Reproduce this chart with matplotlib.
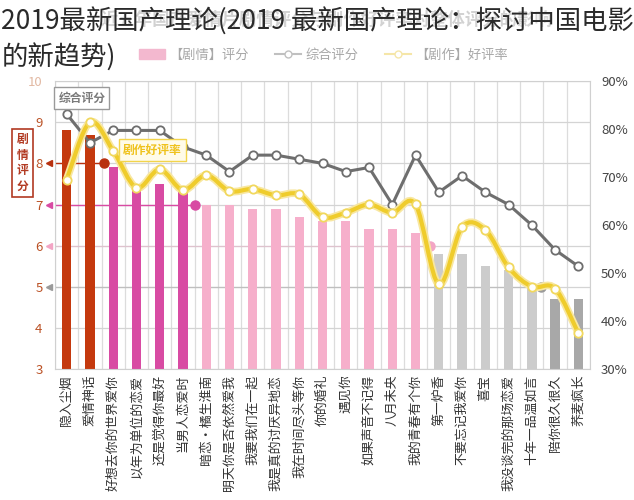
import numpy as np
import matplotlib.pyplot as plt
import matplotlib.patheffects as pe
from matplotlib.path import Path
from matplotlib.patches import PathPatch, Patch
from matplotlib.lines import Line2D

plt.rcParams['font.family'] = ['Noto Sans CJK SC', 'DejaVu Sans']

# films, left to right
films = ['隐入尘烟', '爱情神话', '好想去你的世界爱你', '以年为单位的恋爱', '还是觉得你最好',
         '当男人恋爱时', '暗恋·橘生淮南', '明天你是否依然爱我', '我要我们在一起',
         '我是真的讨厌异地恋', '我在时间尽头等你', '你的婚礼', '遇见你', '如果声音不记得',
         '八月未央', '我的青春有个你', '第一炉香', '不要忘记我爱你', '喜宝',
         '我没谈完的那场恋爱', '十年一品温如言', '陪你很久很久', '荞麦疯长']

# 【剧情】评分 (bars, left axis)
plot_score = [8.8, 8.7, 7.9, 7.4, 7.5, 7.3, 7.0, 7.0, 6.9, 6.9, 6.7, 6.6, 6.6, 6.4,
              6.4, 6.3, 5.8, 5.8, 5.5, 5.4, 5.0, 4.7, 4.7]
# 综合评分 (grey line, left axis)
overall_score = [9.2, 8.5, 8.8, 8.8, 8.8, 8.4, 8.2, 7.8, 8.2, 8.2, 8.1, 8.0, 7.8, 7.9,
                 7.0, 8.2, 7.3, 7.7, 7.3, 7.0, 6.5, 5.9, 5.5]
# 【剧作】好评率 in % (yellow line, right axis)
script_rate = [69.5, 81.4, 75.5, 67.8, 71.6, 67.3, 70.4, 67.1, 67.5, 66.2, 66.4, 61.7,
               62.6, 64.3, 62.6, 64.3, 47.7, 59.6, 59.0, 51.2, 47.2, 46.8, 37.5]

# score band of each bar (colour group)
bar_tier = [0, 0, 1, 1, 1, 1] + [2] * 10 + [3] * 5 + [4, 4]
tier_colors = ['#c4390e', '#d84ba3', '#f6afcb', '#cccccc', '#a8a8a8']
dot_colors = ['#b8300f', '#d84ba3', '#f3a5c5', '#9a9a9a']
line_alpha = [1.0, 1.0, 0.35, 0.35]
cut_levels = [8, 7, 6, 5]
cut_pos = [1.6, 5.5, 15.6, 20.4]

fig = plt.figure(figsize=(6.34, 5.0), dpi=100)
ax = fig.add_axes([0.0868, 0.2614, 0.8438, 0.5766])
x = np.arange(len(films))

ax.bar(x, plot_score, width=0.4, color=[tier_colors[t] for t in bar_tier], zorder=2)
ax.set_xlim(-0.5, len(films) - 0.5)
ax.set_ylim(3, 10)

# grid
for xv in np.arange(-0.5, len(films), 1.0):
    ax.axvline(xv, color='#dcdcdc', lw=0.9, zorder=0)
ax.set_yticks(range(3, 11))
ax.grid(axis='y', color='#d4d4d4', lw=0.9, zorder=0)
ax.set_axisbelow(True)
for s in ax.spines.values():
    s.set_color('#d0d0d0')

# band markers on the left axis
for lvl, pos, c, a in zip(cut_levels, cut_pos, dot_colors, line_alpha):
    ax.plot([-0.5, pos], [lvl, lvl], color=c, lw=1.0, alpha=a, zorder=1)
    ax.plot(pos, lvl, 'o', color=c, ms=6.5, zorder=4)
    ax.plot(-0.012, lvl, '<', color=c, ms=5, clip_on=False,
            transform=ax.get_yaxis_transform(), zorder=4)

ax.plot(x, overall_score, color='#6e6e6e', lw=2.2, marker='o', ms=6,
        mfc='white', mec='#6e6e6e', mew=1.3, zorder=5)

ax.set_xticks(x)
ax.set_xticklabels(films, rotation=90, fontsize=9.3, color='#333333')
ax.tick_params(axis='x', length=0, pad=4)
ax.tick_params(axis='y', length=0, pad=9, labelsize=9.5, labelcolor='#bb5226')
ax.get_yticklabels()[-1].set_color('#e2b9a3')

# right axis: script approval rate
ax2 = ax.twinx()
ax2.set_ylim(30, 90)
ax2.set_yticks(range(30, 91, 10))
ax2.set_yticklabels([f'{v}%' for v in range(30, 91, 10)])
ax2.tick_params(axis='y', length=0, pad=8, labelsize=9.5, labelcolor='#444444')
for s in ax2.spines.values():
    s.set_visible(False)

pts = np.column_stack([x, script_rate]).astype(float)
n = len(pts)
verts = [pts[0]]
codes = [Path.MOVETO]
for i in range(n - 1):
    p0 = pts[max(i - 1, 0)]
    p1 = pts[i]
    p2 = pts[i + 1]
    p3 = pts[min(i + 2, n - 1)]
    verts += [p1 + (p2 - p0) / 6, p2 - (p3 - p1) / 6, p2]
    codes += [Path.CURVE4] * 3
curve = PathPatch(Path(verts, codes), fill=False, edgecolor='#efcc2c', lw=3.0, zorder=5,
                  path_effects=[pe.Stroke(linewidth=5.5, foreground='#f8e7a0'), pe.Normal()])
ax2.add_patch(curve)
ax2.plot(x, script_rate, ls='none', marker='o', ms=6, mfc='white', mec='#f1d85e',
         mew=1.3, zorder=6)

# boxed labels
fig.text(0.129, 0.804, '综合评分', fontsize=8.5, fontweight='bold', color='#7a7a7a',
         ha='center', va='center',
         bbox=dict(boxstyle='square,pad=0.35', fc='white', ec='#9a9a9a', lw=1))
fig.text(0.24, 0.70, '剧作好评率', fontsize=8.5, fontweight='bold', color='#efc21c',
         ha='center', va='center',
         bbox=dict(boxstyle='square,pad=0.35', fc='#fffbe8', ec='#f2d44c', lw=1))
fig.text(0.036, 0.674, '剧\n情\n评\n分', fontsize=8.5, fontweight='bold', color='#b23a22',
         ha='center', va='center', linespacing=1.25,
         bbox=dict(boxstyle='square,pad=0.4', fc='white', ec='#b23a22', lw=1.2))

# faded chart title and legend
fig.text(0.515, 0.96, '近五年国产爱情片剧情评分与剧作好评率对整体评分的影响',
         fontsize=12.5, fontweight='bold', color='#d2d2d2', ha='center', va='center')
handles = [Patch(color='#f3b8cf'),
           Line2D([], [], color='#c0c0c0', lw=1.5, marker='o', ms=5, mfc='white', mec='#c0c0c0'),
           Line2D([], [], color='#f5e6a8', lw=1.5, marker='o', ms=5, mfc='white', mec='#f5e6a8')]
leg = fig.legend(handles, ['【剧情】评分', '综合评分', '【剧作】好评率'], loc='center',
                 bbox_to_anchor=(0.51, 0.89), ncol=3, frameon=False, fontsize=9.5,
                 handlelength=2.0, columnspacing=2.0, handletextpad=0.3)
for t in leg.get_texts():
    t.set_color('#a8a8a8')

# page title laid over the chart
fig.text(0.002, 0.985, '2019最新国产理论(2019 最新国产理论：探讨中国电影', fontsize=19,
         fontweight='light', color='#2a2a2a', ha='left', va='top', zorder=10)
fig.text(0.002, 0.912, '的新趋势)', fontsize=19, fontweight='light', color='#2a2a2a',
         ha='left', va='top', zorder=10)

fig.savefig('out.png', dpi=100)
